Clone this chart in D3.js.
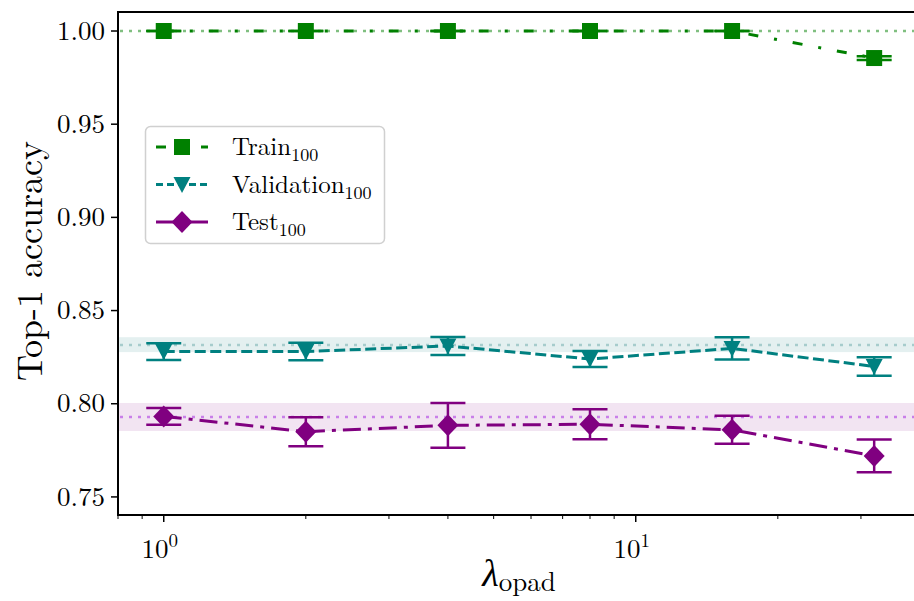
<!DOCTYPE html>
<html>
<head>
<meta charset="utf-8">
<script src="https://cdn.jsdelivr.net/npm/d3@7"></script>
<style>
  body { margin: 0; background: #fff; }
  svg { display: block; }
</style>
</head>
<body>
<script>
const width = 914,
      height = 601;

// data
const lambdas = [1, 2, 4, 8, 16, 32];
const trainAcc = [1.0, 1.0, 1.0, 1.0, 1.0, 0.9855];
const trainErr = [0, 0, 0, 0, 0, 0.001];
const valAcc = [0.828, 0.828, 0.831, 0.824, 0.8297, 0.820];
const valErr = [0.0045, 0.0047, 0.0048, 0.0043, 0.006, 0.005];
const testAcc = [0.7932, 0.785, 0.7884, 0.789, 0.786, 0.772];
const testErr = [0.0045, 0.0078, 0.012, 0.008, 0.0075, 0.0088];

// reference lines (mean, band low, band high)
const trainRef = [1.0, 1.0, 1.0];
const valRef = [0.8315, 0.8277, 0.8357];
const testRef = [0.7929, 0.7854, 0.8004];

const yTicks = [0.75, 0.80, 0.85, 0.90, 0.95, 1.00];
const xMajor = [1, 10];
const xMinor = [0.8, 0.9, 2, 3, 4, 5, 6, 7, 8, 9, 20, 30];

const margin = {left: 118, top: 12, bottom: 515};

const x = d3.scaleLog()
            .domain([0.8, 40])
            .range([margin.left, margin.left + Math.log10(50) * 472]);
const y = d3.scaleLinear()
            .domain([0.7403, 1.0102])
            .range([margin.bottom, margin.top]);

const svg = d3.select("body")
              .append("svg")
              .attr("width", width)
              .attr("height", height)
              .attr("font-family", "'Latin Modern Roman', 'Liberation Serif'");

// shaded bands + dotted reference lines
const refs = [
  {r: trainRef, band: null, line: "#80bf80"},
  {r: valRef, band: "#e4f0f0", line: "#a6cccc"},
  {r: testRef, band: "#f2e4f2", line: "#c97fe9"}
];
refs.forEach(function(d) {
  if (d.band) {
    svg.append("rect")
       .attr("x", margin.left)
       .attr("width", width - margin.left)
       .attr("y", y(d.r[2]))
       .attr("height", y(d.r[1]) - y(d.r[2]))
       .attr("fill", d.band);
  }
});
refs.forEach(function(d) {
  svg.append("line")
     .attr("x1", margin.left + 2).attr("x2", width)
     .attr("y1", y(d.r[0])).attr("y2", y(d.r[0]))
     .attr("stroke", d.line)
     .attr("stroke-width", 2.5)
     .attr("stroke-dasharray", "3,6");
});

const series = [
  {name: "Train", acc: trainAcc, err: trainErr, color: "#008000", dash: "10,16,3,16", lw: 3, marker: "square",
   legendDash: "10,16,3,16"},
  {name: "Validation", acc: valAcc, err: valErr, color: "#008080", dash: "11,4.5", lw: 3, marker: "tri",
   legendDash: "7,4"},
  {name: "Test", acc: testAcc, err: testErr, color: "#800080", dash: "18,7,4,7", lw: 3, marker: "diamond",
   legendDash: null}
];

const line = d3.line()
               .x(d => x(d[0]))
               .y(d => y(d[1]));

function markerPath(type) {
  if (type == "square") return "M-8,-8H8V8H-8Z";
  if (type == "tri") return "M-8.5,-7.5H8.5L0,8.5Z";
  return "M0,-11L10.5,0L0,11L-10.5,0Z";
}

series.forEach(function(s) {
  const g = svg.append("g");
  const pts = lambdas.map((l, i) => [l, s.acc[i], s.err[i]]);

  g.append("path")
   .datum(pts)
   .attr("d", line)
   .attr("fill", "none")
   .attr("stroke", s.color)
   .attr("stroke-width", s.lw)
   .attr("stroke-dasharray", s.dash);

  // error bars
  const eb = g.selectAll(".eb")
              .data(pts)
              .enter()
              .append("g");
  eb.append("line")
    .attr("x1", d => x(d[0])).attr("x2", d => x(d[0]))
    .attr("y1", d => y(d[1] - d[2])).attr("y2", d => y(d[1] + d[2]))
    .attr("stroke", s.color).attr("stroke-width", 2.5);
  [-1, 1].forEach(function(sign) {
    eb.append("line")
      .attr("x1", d => x(d[0]) - 17.5).attr("x2", d => x(d[0]) + 17.5)
      .attr("y1", d => y(d[1] + sign * d[2])).attr("y2", d => y(d[1] + sign * d[2]))
      .attr("stroke", s.color).attr("stroke-width", 2.5);
  });

  g.selectAll(".mk")
   .data(pts)
   .enter()
   .append("path")
   .attr("transform", d => "translate(" + x(d[0]) + "," + y(d[1]) + ")")
   .attr("d", markerPath(s.marker))
   .attr("fill", s.color);
});

// axes frame
svg.append("line")
   .attr("x1", margin.left).attr("x2", margin.left)
   .attr("y1", margin.top).attr("y2", margin.bottom)
   .attr("stroke", "#000").attr("stroke-width", 2);
svg.append("line")
   .attr("x1", margin.left - 1).attr("x2", width)
   .attr("y1", margin.top).attr("y2", margin.top)
   .attr("stroke", "#000").attr("stroke-width", 2);
svg.append("line")
   .attr("x1", margin.left - 1).attr("x2", width)
   .attr("y1", margin.bottom).attr("y2", margin.bottom)
   .attr("stroke", "#000").attr("stroke-width", 2);

// y ticks
const yAxis = svg.append("g");
yTicks.forEach(function(t) {
  yAxis.append("line")
       .attr("x1", margin.left - 7).attr("x2", margin.left)
       .attr("y1", y(t)).attr("y2", y(t))
       .attr("stroke", "#000").attr("stroke-width", 1.5);
  yAxis.append("text")
       .attr("x", margin.left - 13)
       .attr("y", y(t))
       .attr("dy", "0.32em")
       .attr("text-anchor", "end")
       .attr("font-size", 27)
       .text(d3.format(".2f")(t));
});

// x ticks
const xAxis = svg.append("g");
xMajor.forEach(function(t) {
  xAxis.append("line")
       .attr("x1", x(t)).attr("x2", x(t))
       .attr("y1", margin.bottom).attr("y2", margin.bottom + 7)
       .attr("stroke", "#000").attr("stroke-width", 1.5);
  const txt = xAxis.append("text")
                   .attr("x", x(t) - 4)
                   .attr("y", margin.bottom + 43)
                   .attr("text-anchor", "middle")
                   .attr("font-size", 27);
  txt.append("tspan").text("10");
  txt.append("tspan")
     .attr("dy", -11)
     .attr("font-size", 19)
     .text(Math.round(Math.log10(t)));
});
xMinor.forEach(function(t) {
  xAxis.append("line")
       .attr("x1", x(t)).attr("x2", x(t))
       .attr("y1", margin.bottom).attr("y2", margin.bottom + 4)
       .attr("stroke", "#000").attr("stroke-width", 1);
});

// axis labels
const xl = svg.append("text")
              .attr("x", 519)
              .attr("y", 586)
              .attr("text-anchor", "middle")
              .attr("font-size", 38);
xl.append("tspan").attr("font-style", "italic").text("λ");
xl.append("tspan").attr("dy", 5).attr("font-size", 27).text("opad");

svg.append("text")
   .attr("transform", "translate(42,261) rotate(-90)")
   .attr("text-anchor", "middle")
   .attr("font-size", 36)
   .text("Top-1 accuracy");

// legend
const legend = svg.append("g");
legend.append("rect")
      .attr("x", 145.5).attr("y", 126.5)
      .attr("width", 239).attr("height", 117)
      .attr("rx", 5)
      .attr("fill", "#fff").attr("fill-opacity", 0.8)
      .attr("stroke", "#d0d0d0").attr("stroke-width", 1.5);

series.forEach(function(s, i) {
  const ly = 147 + i * 37.5;
  legend.append("line")
        .attr("x1", 156).attr("x2", 208)
        .attr("y1", ly).attr("y2", ly)
        .attr("stroke", s.color)
        .attr("stroke-width", s.lw)
        .attr("stroke-dasharray", s.legendDash);
  legend.append("path")
        .attr("transform", "translate(182," + ly + ")")
        .attr("d", markerPath(s.marker))
        .attr("fill", s.color);
  const t = legend.append("text")
                  .attr("x", 232)
                  .attr("y", ly + 8)
                  .attr("font-size", 25);
  t.append("tspan").text(s.name);
  t.append("tspan").attr("dy", 6).attr("font-size", 18).text("100");
});
</script>
</body>
</html>
